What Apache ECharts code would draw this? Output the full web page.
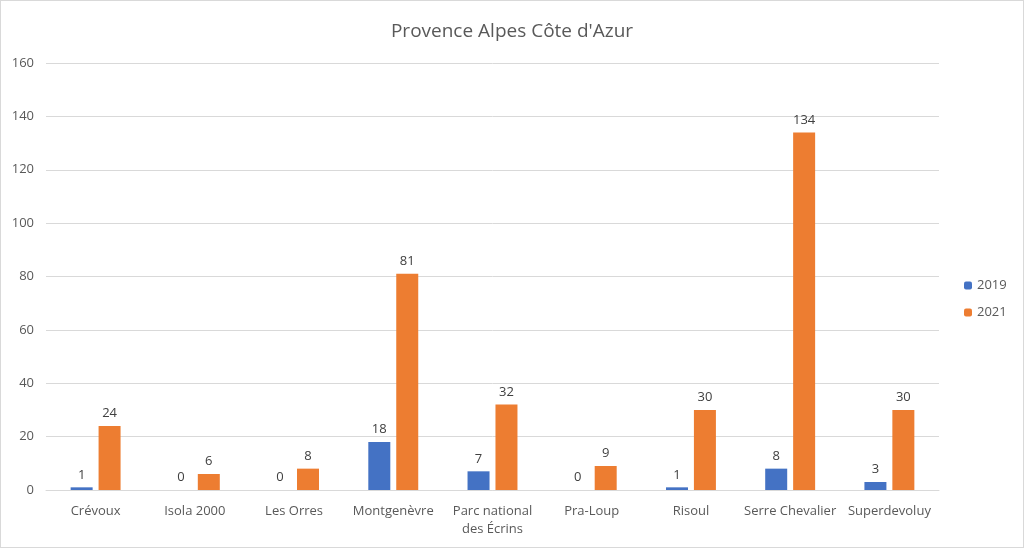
<!DOCTYPE html>
<html><head><meta charset="utf-8">
<script src="https://cdn.jsdelivr.net/npm/echarts@6/dist/echarts.min.js"></script>
<style>html,body{margin:0;padding:0;background:#fff}#c{width:1022px;height:546px;border:1px solid #d9d9d9}</style>
</head><body><div id="c"></div>
<script>
var stations = ['Crévoux', 'Isola 2000', 'Les Orres', 'Montgenèvre', 'Parc national\ndes Écrins', 'Pra-Loup', 'Risoul', 'Serre Chevalier', 'Superdevoluy'];
var values2019 = [1, 0, 0, 18, 7, 0, 1, 8, 3];
var values2021 = [24, 6, 8, 81, 32, 9, 30, 134, 30];

var chart = echarts.init(document.getElementById('c'));
var lbl = { show: true, position: 'top', color: '#404040', fontSize: 13, distance: 6 };
chart.setOption({
    textStyle: { fontFamily: 'Open Sans' },
    title: { text: "Provence Alpes Côte d'Azur", left: 'center', top: 16, textStyle: { fontSize: 19, fontWeight: 'normal', color: '#595959' } },
    legend: { orient: 'vertical', left: 958, top: 273, itemWidth: 8, itemHeight: 8, itemGap: 14, textStyle: { color: '#595959', fontSize: 13 } },
    grid: { left: 45, right: 84, top: 62, bottom: 57 },
    xAxis: {
        type: 'category', data: stations,
        axisTick: { show: false },
        axisLine: { lineStyle: { color: '#d9d9d9' } },
        axisLabel: { color: '#595959', fontSize: 13, interval: 0, lineHeight: 18, margin: 12 }
    },
    yAxis: {
        type: 'value', min: 0, max: 160, interval: 20,
        axisLabel: { color: '#595959', fontSize: 13, margin: 12 },
        splitLine: { lineStyle: { color: '#d9d9d9' } }
    },
    series: [
        { name: '2019', type: 'bar', data: values2019, color: '#4472C4', barWidth: 22, barGap: '27%', label: lbl },
        { name: '2021', type: 'bar', data: values2021, color: '#ED7D31', barWidth: 22, label: lbl }
    ]
});
</script></body></html>
